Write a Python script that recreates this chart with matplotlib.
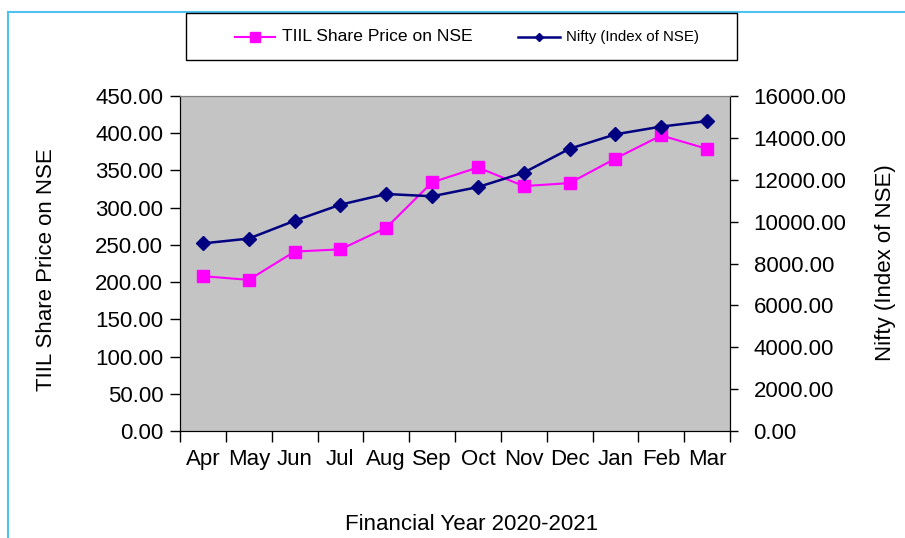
import matplotlib
matplotlib.use("Agg")
import matplotlib.pyplot as plt
from matplotlib.lines import Line2D
from matplotlib.patches import Rectangle
import numpy as np

months = ["Apr", "May", "Jun", "Jul", "Aug", "Sep", "Oct", "Nov", "Dec", "Jan", "Feb", "Mar"]
tiil_price = [208, 203, 241, 244, 273, 334, 354, 329, 333, 366, 397, 379]
nifty = [8960, 9190, 10040, 10810, 11320, 11210, 11650, 12340, 13480, 14170, 14540, 14800]
left_ticks = [0, 50, 100, 150, 200, 250, 300, 350, 400, 450]
right_ticks = [0, 2000, 4000, 6000, 8000, 10000, 12000, 14000, 16000]

plt.rcParams['font.family'] = ['Liberation Sans', 'DejaVu Sans']

fig = plt.figure(figsize=(9.05, 5.38), dpi=100)
W, H = 905, 538

def fx(px):
    return px / W

def fy(py):
    return 1 - py / H

# outer light blue border (top and left)
fig.add_artist(Line2D([fx(8), 1], [fy(12), fy(12)], color="#4FC3F0", lw=1.5, transform=fig.transFigure))
fig.add_artist(Line2D([fx(8), fx(8)], [0, fy(12)], color="#4FC3F0", lw=1.5, transform=fig.transFigure))

ax = fig.add_axes([fx(180), fy(431), 550 / W, 335 / H])
ax.set_facecolor("#C4C4C4")
x = np.arange(len(months))
ax.plot(x, tiil_price, color="#FF00FF", marker="s", markersize=9, lw=1.5, zorder=3)
ax.set_xlim(-0.5, len(months) - 0.5)
ax.set_ylim(0, 450)
ax.set_yticks(left_ticks)
ax.set_yticklabels([f"{v:.2f}" for v in left_ticks], fontsize=16)
ax.set_xticks(x)
ax.set_xticklabels(months, fontsize=16)
ax.set_xticks(np.arange(-0.5, len(months)), minor=True)
ax.tick_params(axis="x", which="major", length=0, pad=13)
ax.tick_params(axis="x", which="minor", length=8, width=1, direction="out")
ax.tick_params(axis="y", length=7, width=1, direction="out", pad=5)
ax.spines["top"].set_color("#808080")
for s in ["left", "bottom", "right"]:
    ax.spines[s].set_color("black")
ax.set_ylabel("TIIL Share Price on NSE", fontsize=16)
ax.yaxis.set_label_coords((46 - 180) / 550, (431 - 270) / 335)
ax.yaxis.label.set_va("center")
ax.set_xlabel("Financial Year 2020-2021", fontsize=16)
ax.xaxis.set_label_coords((472 - 180) / 550, (431 - 525) / 335)
ax.xaxis.label.set_va("center")

ax2 = ax.twinx()
ax2.plot(x, nifty, color="#000080", marker="D", markersize=7, lw=1.8, zorder=3)
ax2.set_ylim(0, 16000)
ax2.set_yticks(right_ticks)
ax2.set_yticklabels([f"{v:.2f}" for v in right_ticks], fontsize=16)
ax2.tick_params(axis="y", length=6, width=1, direction="out", pad=11)
ax2.spines["top"].set_color("#808080")
ax2.spines["right"].set_color("black")
ax2.set_ylabel("Nifty (Index of NSE)", fontsize=16)
ax2.yaxis.set_label_coords((886 - 180) / 550, (431 - 263) / 335)
ax2.yaxis.label.set_va("center")

# legend box drawn manually
fig.add_artist(Rectangle((fx(186), fy(60)), 551 / W, 47 / H, transform=fig.transFigure,
                         facecolor="white", edgecolor="black", lw=1.0, zorder=5))
fig.add_artist(Line2D([fx(235), fx(275)], [fy(36.5), fy(36.5)], color="#FF00FF", lw=1.5,
                      transform=fig.transFigure, zorder=6))
fig.add_artist(Line2D([fx(255)], [fy(36.5)], color="#FF00FF", marker="s", markersize=7,
                      transform=fig.transFigure, zorder=6))
fig.text(fx(282), fy(37), "TIIL Share Price on NSE", fontsize=12.6, va="center", ha="left", zorder=6)
fig.add_artist(Line2D([fx(518), fx(560)], [fy(36.5), fy(36.5)], color="#000080", lw=1.8,
                      transform=fig.transFigure, zorder=6))
fig.add_artist(Line2D([fx(539)], [fy(36.5)], color="#000080", marker="D", markersize=4,
                      transform=fig.transFigure, zorder=6))
fig.text(fx(566), fy(37), "Nifty (Index of NSE)", fontsize=10.8, va="center", ha="left", zorder=6)

fig.savefig("out.png", dpi=100)
